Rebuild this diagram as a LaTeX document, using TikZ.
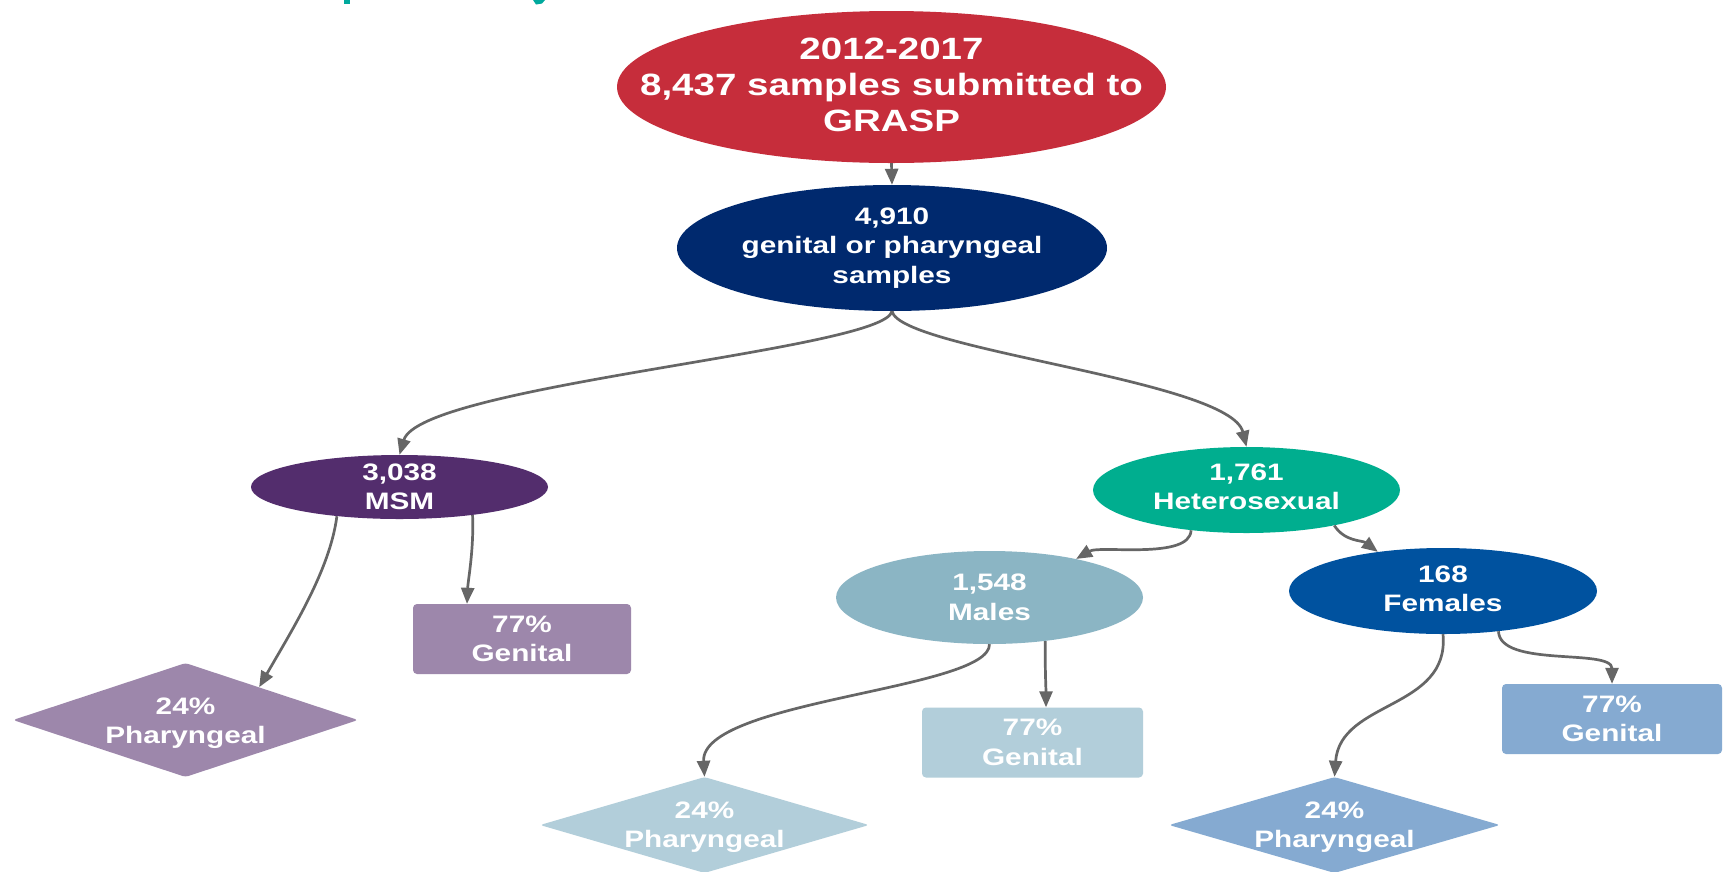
\documentclass[tikz,border=0pt]{standalone}
\usepackage{fontspec}
\newfontfamily\lab{Liberation Sans}[FakeStretch=1.25]
\usetikzlibrary{shapes.geometric,arrows.meta}
\definecolor{cred}{HTML}{C62D3B}
\definecolor{cnavy}{HTML}{00296E}
\definecolor{cmsm}{HTML}{532D6D}
\definecolor{cmsml}{HTML}{9D87AB}
\definecolor{chet}{HTML}{00AE8F}
\definecolor{cmale}{HTML}{8BB5C4}
\definecolor{cmalel}{HTML}{B2CEDA}
\definecolor{cfem}{HTML}{00529F}
\definecolor{cfeml}{HTML}{85AAD1}
\definecolor{arrowgray}{HTML}{666666}
\definecolor{ttl}{HTML}{00A99D}
\tikzset{
  txt/.style={text=white, font=\lab\bfseries\fontsize{23.8}{29.5}\selectfont, align=center, inner sep=0pt},
  bigtxt/.style={txt, font=\lab\bfseries\fontsize{30.8}{36}\selectfont},
  ell/.style={ellipse, inner sep=0pt, draw=none},
  box/.style={rectangle, rounded corners=4pt, inner sep=0pt, minimum width=218pt, minimum height=70pt},
  dia/.style={diamond, rounded corners=3pt, inner sep=0pt},
  conn/.style={draw=arrowgray, line width=2.7pt, -{Triangle[length=16pt,width=13pt]}},
}
\begin{document}
\begin{tikzpicture}[x=1pt,y=-1pt]
\fill[white] (0,0) rectangle (1729,871);
\useasboundingbox (0,0) rectangle (1729,871);
% cut-off title fragments
\fill[ttl] (344,0) rectangle (350,3.5);
\fill[ttl] (533,0) -- (545,0) -- (542,3.5) -- (536,4.5) -- cycle;

% shapes
\node[ell, fill=cred, minimum width=549pt, minimum height=152pt] (top) at (891.5,87) {};
\node[bigtxt] (topt) at (891.5,85) {2012-2017\\8,437 samples submitted to\\GRASP};

\node[ell, fill=cnavy, minimum width=430pt, minimum height=126pt] (navy) at (892,248) {};
\node[txt] (navyt) at (navy.center) {4,910\\genital or pharyngeal\\samples};

\node[ell, fill=cmsm, minimum width=297pt, minimum height=64pt] (msm) at (399.5,487) {};
\node[txt] (msmt) at (msm.center) {3,038\\MSM};

\node[ell, fill=chet, minimum width=307pt, minimum height=86pt] (het) at (1246.5,490) {};
\node[txt] (hett) at ([yshift=3pt]het.center) {1,761\\Heterosexual};

\node[ell, fill=cmale, minimum width=307pt, minimum height=93pt] (males) at (989.5,597.5) {};
\node[txt] (malest) at (males.center) {1,548\\Males};

\node[ell, fill=cfem, minimum width=308pt, minimum height=86pt] (females) at (1443,591) {};
\node[txt] (femalest) at ([yshift=2pt]females.center) {168\\Females};

\node[box, fill=cmsml] (genM) at (522,639) {};
\node[txt] (genMt) at (genM.center) {77\%\\Genital};

\node[box, fill=cmalel, minimum width=221pt] (genMa) at (1032.5,742.5) {};
\node[txt] (genMat) at (genMa.center) {77\%\\Genital};

\node[box, fill=cfeml, minimum width=220pt] (genF) at (1612,719) {};
\node[txt] (genFt) at (genF.center) {77\%\\Genital};

\node[dia, fill=cmsml, minimum width=345pt, minimum height=114pt] (pharM) at (185.5,720) {};
\node[txt] (pharMt) at ([yshift=-3pt]pharM.center) {24\%\\Pharyngeal};

\node[dia, fill=cmalel, minimum width=329pt, minimum height=96pt] (pharMa) at (704.5,825) {};
\node[txt] (pharMat) at ([yshift=-2pt]pharMa.center) {24\%\\Pharyngeal};

\node[dia, fill=cfeml, minimum width=331pt, minimum height=96pt] (pharF) at (1334.5,825) {};
\node[txt] (pharFt) at ([yshift=-2pt]pharF.center) {24\%\\Pharyngeal};

% connectors
\draw[conn] (top.south) -- (navy.north);
\draw[conn] (navy.south) .. controls (885,350) and (420,385) .. (msm.north);
\draw[conn] (navy.south) .. controls (900,350) and (1230,380) .. (het.north);
\draw[conn] (msm.-155) .. controls (330,570) and (292,630) .. (pharM.24.6);
\draw[conn] (msm.-21) .. controls (474,550) and (468,580) .. ([xshift=-55pt]genM.north);
\draw[conn] (het.-144) .. controls (1190,560) and (1100,545) .. (males.24);
\draw[conn] (het.-22) .. controls (1345,542) and (1362,540) .. (females.149);
\draw[conn] (males.south) .. controls (990,690) and (700,700) .. (pharMa.north);
\draw[conn] (males.-38.5) .. controls (1045,670) and (1046,690) .. ([xshift=13.5pt]genMa.north);
\draw[conn] (females.south) .. controls (1450,710) and (1340,700) .. (pharF.north);
\draw[conn] (females.-36.7) .. controls (1500,668) and (1612,648) .. (genF.north);
\end{tikzpicture}
\end{document}
